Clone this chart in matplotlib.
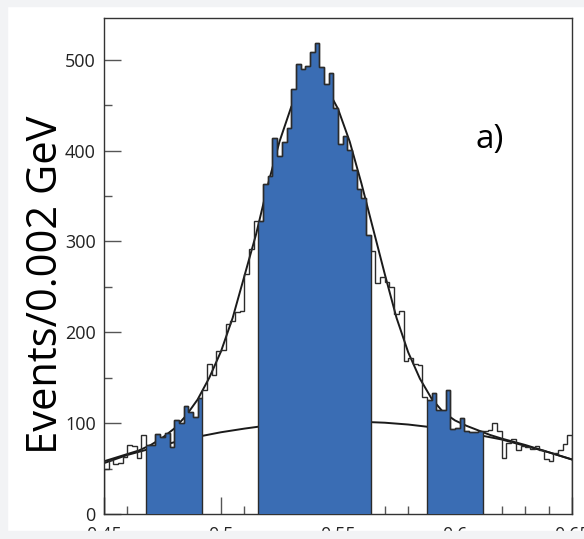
import numpy as np
import matplotlib.pyplot as plt
from matplotlib.patches import Rectangle
from matplotlib.ticker import MultipleLocator

plt.rcParams['font.family'] = ['Open Sans', 'DejaVu Sans']

# histogram: 100 bins of 0.002 GeV between 0.45 and 0.65
edges = np.linspace(0.45, 0.65, 101)
counts = [49, 59, 55, 56, 63, 76, 75, 62, 87,
          76, 76, 88, 85, 89, 74, 104, 100, 119, 112, 107, 128,
          136, 165, 153, 179, 180, 209, 212, 222, 224, 264, 292, 323,
          322, 363, 372, 414, 394, 409, 425, 468, 495, 490, 493, 509,
          519, 492, 473, 485, 447, 407, 416, 401, 379, 358, 348, 307,
          289, 254, 261, 255, 250, 220, 223, 168, 172, 165, 164, 129,
          125, 133, 115, 115, 136, 94, 95, 106, 91, 90, 90, 91,
          91, 93, 100, 91, 62, 78, 83, 70, 75, 74, 72, 75, 70, 60,
          58, 67, 71, 77, 87]

# shaded windows (left sideband, signal, right sideband)
windows = [(0.468, 0.492), (0.516, 0.564), (0.588, 0.612)]

# fit curve (signal + background)
fit_x = [0.450, 0.455, 0.460, 0.465, 0.470, 0.475, 0.480, 0.485, 0.490, 0.495,
         0.500, 0.505, 0.510, 0.515, 0.520, 0.525, 0.530, 0.535, 0.540, 0.545,
         0.550, 0.555, 0.560, 0.565, 0.570, 0.575, 0.580, 0.585, 0.590, 0.595,
         0.600, 0.605, 0.610, 0.615, 0.620, 0.630, 0.640, 0.650]
fit_y = [58, 62, 66, 70, 76, 84, 94, 108, 126, 150,
         179, 216, 262, 308, 362, 410, 448, 472, 480, 470,
         446, 410, 364, 314, 264, 216, 178, 149, 127, 112,
         103, 97, 92, 87, 83, 76, 68, 60]

# background component
bkg_x = [0.45, 0.46, 0.47, 0.48, 0.49, 0.50, 0.51, 0.52, 0.53, 0.54, 0.55,
         0.56, 0.57, 0.58, 0.59, 0.60, 0.61, 0.62, 0.63, 0.64, 0.65]
bkg_y = [56, 65, 72, 79, 85, 90, 94, 97.5, 100, 101.5, 102,
         101.5, 100.5, 98.5, 95.5, 92, 87, 82, 75, 68, 60]

xtick_vals = [0.45, 0.5, 0.55, 0.6, 0.65]
xtick_labels = ['0.45', '0.5', '0.55', '0.6', '0.65']

blue = '#3a6db4'
dark = '#2b2b2b'

fig = plt.figure(figsize=(5.84, 5.39), dpi=100)
fig.patch.set_facecolor('white')
ax = fig.add_axes([104/584, 25/539, 468/584, 496/539])

# fit lines under the shaded histogram
ax.plot(bkg_x, bkg_y, color='#1a1a1a', lw=1.4, zorder=2)
ax.plot(fit_x, fit_y, color='#1a1a1a', lw=1.4, zorder=2)

counts = np.array(counts)
for lo, hi in windows:
    i0 = int(round((lo - 0.45) / 0.002))
    i1 = int(round((hi - 0.45) / 0.002))
    ax.stairs(counts[i0:i1], edges[i0:i1+1], fill=True, facecolor=blue,
              edgecolor=dark, lw=1.0, zorder=3)

ax.stairs(counts, edges, color=dark, lw=1.0, zorder=4)

ax.set_xlim(0.45, 0.65)
ax.set_ylim(0, 546)
ax.set_xticks(xtick_vals)
ax.set_xticklabels(xtick_labels)
ax.xaxis.set_minor_locator(MultipleLocator(0.01))
ax.yaxis.set_major_locator(MultipleLocator(100))
ax.yaxis.set_minor_locator(MultipleLocator(50))
ax.tick_params(which='both', direction='in', top=False, right=False,
               color='#555555', labelsize=13, labelcolor='#222222')
ax.tick_params(axis='y', pad=6)
ax.tick_params(axis='x', pad=8.5)
ax.tick_params(which='major', length=12, width=1)
ax.tick_params(which='minor', length=6, width=1)
for s in ax.spines.values():
    s.set_color('#333333')
    s.set_linewidth(1.0)

ax.set_ylabel('Events/0.002 GeV', fontsize=30)
ax.yaxis.set_label_coords(-0.079, 0.463)
ax.text(0.615, 412, 'a)', fontsize=24, ha='center', va='center')

# light grey frame round the picture
grey = '#f2f3f5'
fig.patches.append(Rectangle((0, 0), 1, 8/539, transform=fig.transFigure,
                             color=grey, zorder=10))
fig.patches.append(Rectangle((0, 1 - 6/539), 1, 6/539, transform=fig.transFigure,
                             color=grey, zorder=10))
fig.patches.append(Rectangle((0, 0), 7/584, 1, transform=fig.transFigure,
                             color=grey, zorder=10))

fig.savefig('out.png', dpi=100)
